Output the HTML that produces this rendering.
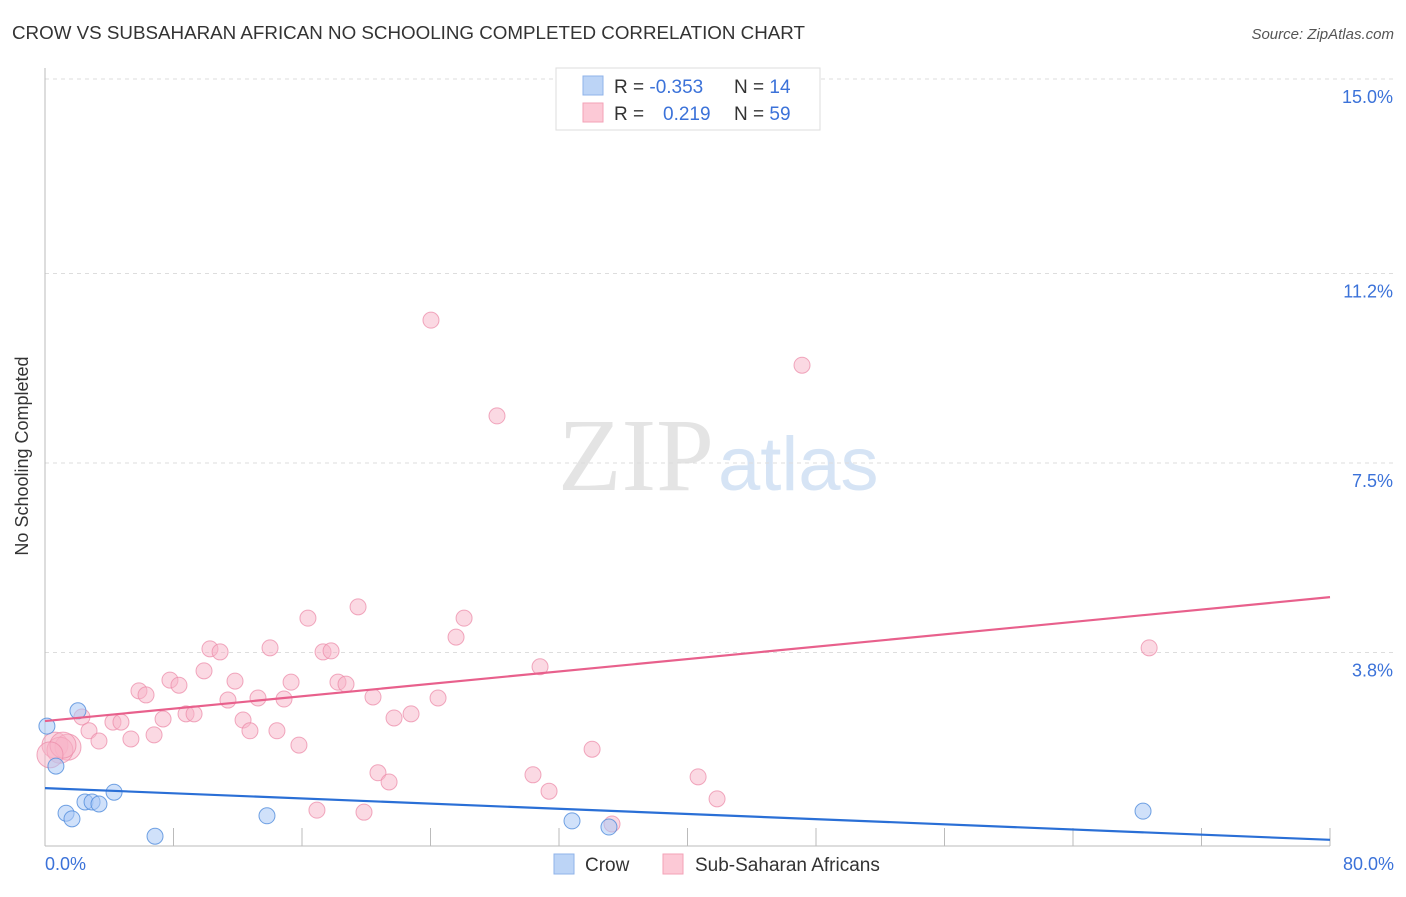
<!DOCTYPE html>
<html><head><meta charset="utf-8"><style>
body{margin:0;background:#fff;font-family:"Liberation Sans",sans-serif}
</style></head><body>
<svg width="1406" height="892" xmlns="http://www.w3.org/2000/svg">
<text x="12" y="39" font-size="18" fill="#333" textLength="793" lengthAdjust="spacingAndGlyphs">CROW VS SUBSAHARAN AFRICAN NO SCHOOLING COMPLETED CORRELATION CHART</text>
<text x="1394" y="39" font-size="15" fill="#555" font-style="italic" text-anchor="end">Source: ZipAtlas.com</text>
<text x="714" y="490" font-size="104" fill="#e4e4e4" text-anchor="end" font-family="Liberation Serif">ZIP</text>
<text x="718" y="490" font-size="76" fill="#d6e4f5">atlas</text>
<g id="grid"></g>
<line x1="45" y1="68" x2="45" y2="846" stroke="#bbb"/>
<line x1="45" y1="846" x2="1330" y2="846" stroke="#bbb"/>
<text x="28" y="456" font-size="18" fill="#333" text-anchor="middle" transform="rotate(-90 28 456)">No Schooling Completed</text>
<g id="pts"></g>
<g id="lines"></g>
<text x="45" y="870" font-size="18" fill="#3b72d9">0.0%</text>
<text x="1394" y="870" font-size="18" fill="#3b72d9" text-anchor="end">80.0%</text>
<g>
<rect x="556" y="68" width="264" height="62" fill="#fff" stroke="#ddd"/>
<rect x="583" y="76" width="20" height="19" fill="#bcd4f6" stroke="#8fb3ea"/>
<rect x="583" y="103" width="20" height="19" fill="#fcc9d6" stroke="#f3a2b7"/>
<text x="614" y="93" font-size="19" fill="#333">R = <tspan fill="#3b72d9">-0.353</tspan><tspan x="734">N = </tspan><tspan fill="#3b72d9">14</tspan></text>
<text x="614" y="120" font-size="19" fill="#333">R = <tspan x="663" fill="#3b72d9">0.219</tspan><tspan x="734">N = </tspan><tspan fill="#3b72d9">59</tspan></text>
</g>
<g>
<rect x="554" y="854" width="20" height="20" fill="#bcd4f6" stroke="#8fb3ea"/>
<text x="585" y="871" font-size="19" fill="#333">Crow</text>
<rect x="663" y="854" width="20" height="20" fill="#fcc9d6" stroke="#f3a2b7"/>
<text x="695" y="871" font-size="19" fill="#333">Sub-Saharan Africans</text>
</g>
</svg>
<script>
const yTicks=[15.0,11.2,7.5,3.8];
const yTickLabels=["15.0%","11.2%","7.5%","3.8%"];
const xTicks=[0,8,16,24,32,40,48,56,64,72,80];
const pinkX=[24.03,28.14,47.13,68.74,16.37,19.49,26.09,25.59,30.82,10.27,10.90,14.01,17.31,17.81,9.90,7.78,8.34,5.85,6.29,11.83,15.32,18.24,18.74,11.39,13.26,14.88,20.42,24.47,2.30,2.74,4.23,4.73,7.35,8.78,9.28,12.33,12.76,14.44,21.73,22.79,5.35,3.36,6.79,15.81,34.06,0.62,1.43,0.93,20.73,21.42,30.38,31.38,40.66,41.84,16.93,19.86,35.30,1.12,0.31];
const pinkY=[10.29,8.42,9.41,3.89,4.47,4.69,4.47,4.10,3.52,3.87,3.81,3.89,3.81,3.83,3.44,3.26,3.16,3.05,2.97,3.24,3.22,3.22,3.18,2.87,2.91,2.89,2.93,2.91,2.54,2.27,2.44,2.44,2.50,2.60,2.60,2.48,2.27,2.27,2.52,2.60,2.11,2.07,2.19,1.99,1.91,1.99,1.95,1.89,1.45,1.27,1.41,1.09,1.37,0.94,0.72,0.68,0.45,1.99,1.80];
const blueX=[0.12,0.68,2.05,1.31,1.68,2.49,2.93,3.36,4.30,6.85,13.82,32.81,35.11,68.36];
const blueY=[2.36,1.58,2.66,0.66,0.55,0.88,0.88,0.84,1.07,0.21,0.61,0.51,0.39,0.70];
const pinkTrend=[2.46,4.88];
const blueTrend=[1.15,0.14];
const NS="http://www.w3.org/2000/svg";
const sx=v=>45+v/80*1285;
const sy=v=>847-v/3.75*192;
function mk(t,a,p){const e=document.createElementNS(NS,t);for(const k in a)e.setAttribute(k,a[k]);p.appendChild(e);return e;}
const grid=document.getElementById('grid');
yTicks.forEach((t,i)=>{
 const l=mk('line',{x1:45,x2:1395,y1:sy(t),y2:sy(t),stroke:'#ddd','stroke-dasharray':'4,4'},grid);
 
 
 const tx=mk('text',{x:1393,y:sy(t)+24,'font-size':18,fill:'#3b72d9','text-anchor':'end'},grid);
 tx.textContent=yTickLabels[i];
 
 
});
xTicks.forEach(t=>{
 const l=mk('line',{x1:sx(t),x2:sx(t),y1:828,y2:846,stroke:'#bbb'},grid);
 
 
});
const pts=document.getElementById('pts');
pinkX.forEach((x,i)=>{
 const r=(x<1.5&&pinkY[i]<2.1)?13:8;
 const c=mk('circle',{cx:sx(x),cy:sy(pinkY[i]),r:r,fill:'rgba(248,180,200,0.5)',stroke:'rgba(236,140,170,0.75)','stroke-width':1},pts);
 
 
});
blueX.forEach((x,i)=>{
 const c=mk('circle',{cx:sx(x),cy:sy(blueY[i]),r:8,fill:'rgba(170,200,245,0.55)',stroke:'rgba(80,140,220,0.8)','stroke-width':1},pts);
 
 
});
const lines=document.getElementById('lines');
const pl=mk('line',{x1:sx(0),y1:sy(pinkTrend[0]),x2:sx(80),y2:sy(pinkTrend[1]),stroke:'#e8608c','stroke-width':2.2},lines);


const bl=mk('line',{x1:sx(0),y1:sy(blueTrend[0]),x2:sx(80),y2:sy(blueTrend[1]),stroke:'#2a6fd6','stroke-width':2.2},lines);


</script>
</body></html>
